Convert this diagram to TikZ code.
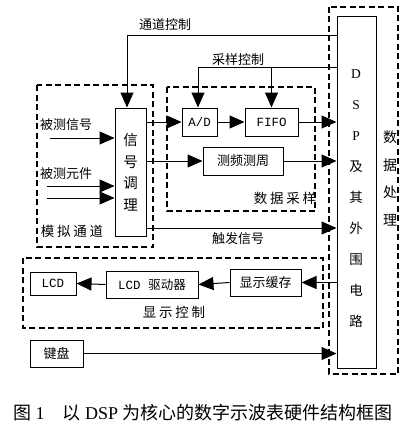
\documentclass[tikz,border=0pt]{standalone}
\usepackage{fontspec}
\setmainfont{Liberation Serif}
\setmonofont{Liberation Mono}
\newfontfamily\cjk{Noto Sans CJK SC}
\newfontfamily\cjkw[LetterSpace=20]{Noto Sans CJK SC}
\usetikzlibrary{arrows.meta,positioning}

\begin{document}
\begin{tikzpicture}[x=1pt,y=-1pt,
        blk/.style={draw,line width=1pt,inner sep=0pt},
        grp/.style={draw,line width=1.6pt,dash pattern=on 6pt off 3.5pt},
        arr/.style={line width=1pt,-{Triangle[length=15pt,width=13pt]}},
        cn/.style={font=\cjk\fontsize{13}{15}\selectfont},
        cnw/.style={font=\cjkw\fontsize{13.5}{15}\selectfont},
        lat/.style={font=\ttfamily\fontsize{12.5}{14}\selectfont}]
    \useasboundingbox (0,0) rectangle (419,428);

    % dashed groups
    \draw[grp] (37,85) rectangle (153,247);
    \draw[grp] (167,87) rectangle (315,211);
    \draw[grp] (329,7) rectangle (398,374);
    \draw[grp] (23,258) rectangle (323,328);

    \node[blk,minimum width=31pt,minimum height=128pt,align=center,font=\cjk\fontsize{14.5}{21.5}\selectfont] (sig) at (130.5,172) {信\\号\\调\\理};
    \node[blk,lat,minimum width=35pt,minimum height=28pt] (ad) at (199.5,122) {A/D};
    \node[blk,lat,minimum width=53pt,minimum height=28pt] (fifo) at (271.5,122) {FIFO};
    \node[blk,cn,minimum width=80pt,minimum height=28pt] (frq) at (243,161) {测频测周};
    \node[blk,minimum width=39pt,minimum height=351pt] (dsp) at (356.5,192.5) {};
    \node[align=center,font=\cjk\fontsize{13.5}{31}\selectfont] (dspt) at (356,199) {\rmfamily D\\\rmfamily S\\\rmfamily P\\及\\其\\外\\围\\电\\路};
    \node[align=center,font=\cjk\fontsize{14}{27.7}\selectfont] (proc) at (390,178.5) {数\\据\\处\\理};

    \node[blk,lat,minimum width=46pt,minimum height=23pt] (lcd) at (53,283.5) {LCD};
    \node[blk,minimum width=92pt,minimum height=27pt] (drv) at (152,284.5) {\ttfamily\fontsize{12.5}{14}\selectfont LCD {\cjk 驱动器}};
    \node[blk,cn,minimum width=71pt,minimum height=27pt] (buf) at (265.5,282.5) {显示缓存};
    \node[blk,cn,minimum width=53pt,minimum height=27pt] (kbd) at (56.5,353.5) {键盘};

    \node[cn] (lchan) at (165,25) {通道控制};
    \node[cn] (lsmp) at (238,60) {采样控制};
    \node[cn] (lin1) at (66,125) {被测信号};
    \node[cn] (lin2) at (66,174) {被测元件};
    \node[cnw] (lana) at (72,231) {模拟通道};
    \node[cnw] (lacq) at (285,198) {数据采样};
    \node[cn] (ltrg) at (238,239) {触发信号};
    \node[cnw] (ldisp) at (174,312) {显示控制};
    \node[font=\fontsize{18}{20}\selectfont] (cap) at (203,413) {{\cjk 图}~1\quad{\cjk 以}~DSP~{\cjk 为核心的数字示波表硬件结构框图}};

    \coordinate (cc) at (127,36);
    \coordinate (sc) at (198,67);
    \coordinate (trg) at (146,228);
    \coordinate (in1) at (50,138);
    \coordinate (in2) at (47,186);
    \coordinate (in3) at (47,198);

    \draw[arr] (cc -| dsp.west) -- (cc) -- (cc |- sig.north);
    \draw[arr] (sc -| dsp.west) -- (sc) -- (sc |- ad.north);
    \draw[arr] (fifo.north |- sc) -- (fifo.north);
    \foreach \c in {in1,in2,in3} \draw[arr] (\c) -- (\c -| sig.west);
    \draw[arr] (sig.east |- ad.west) -- (ad.west);
    \draw[arr] (ad.east) -- (fifo.west);
    \draw[arr] (fifo.east) -- (fifo.east -| dsp.west);
    \draw[arr] (sig.east |- frq.west) -- (frq.west);
    \draw[arr] (frq.east) -- (frq.east -| dsp.west);
    \draw[arr] (sig.east |- trg) -- (trg -| dsp.west);
    \draw[arr] (dsp.west |- buf.east) -- (buf.east);
    \draw[arr] (buf.west) -- (drv.east);
    \draw[arr] (drv.west) -- (lcd.east);
    \draw[arr] (kbd.east) -- (kbd.east -| dsp.west);
\end{tikzpicture}
\end{document}
